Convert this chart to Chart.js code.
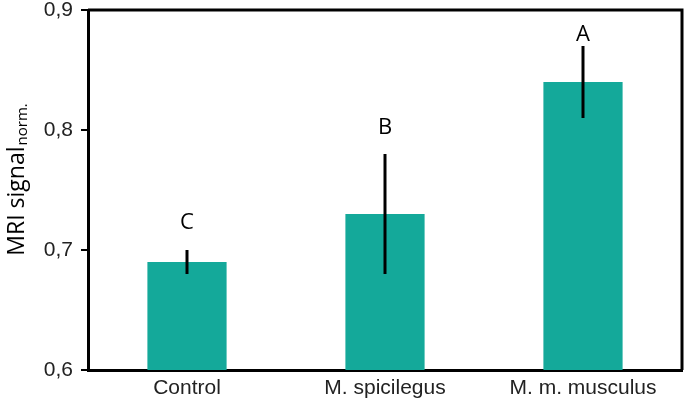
<!DOCTYPE html>
<html>
<head>
<meta charset="utf-8">
<script src="https://cdn.jsdelivr.net/npm/chart.js@4.4.0/dist/chart.umd.min.js"></script>
<style>
  html, body { margin: 0; padding: 0; background: #fff; }
  #wrap { width: 685px; height: 403px; }
</style>
</head>
<body>
<div id="wrap"><canvas id="mriChart" width="685" height="403"></canvas></div>
<script>
// data
var groups = ['Control', 'M. spicilegus', 'M. m. musculus'];
var signal = [0.69, 0.73, 0.84];
var errLow = [0.68, 0.68, 0.81];
var errHigh = [0.70, 0.78, 0.87];
var letters = ['C', 'B', 'A'];
var letterAt = [0.723, 0.802, 0.879];
var yTicks = [0.6, 0.7, 0.8, 0.9];

var barColor = '#14a99a';

// error bars, significance letters, frame and the axis title with subscript
var extras = {
  id: 'extras',
  afterDatasetsDraw: function(chart) {
    var c = chart.ctx, y = chart.scales.y;
    var meta = chart.getDatasetMeta(0);
    c.save();
    c.strokeStyle = '#000';
    c.lineWidth = 3;
    meta.data.forEach(function(bar, i) {
      c.beginPath();
      c.moveTo(bar.x, y.getPixelForValue(errLow[i]));
      c.lineTo(bar.x, y.getPixelForValue(errHigh[i]));
      c.stroke();
    });
    c.fillStyle = '#000';
    c.font = '22px "Open Sans"';
    c.textAlign = 'center';
    c.textBaseline = 'middle';
    meta.data.forEach(function(bar, i) {
      c.fillText(letters[i], bar.x, y.getPixelForValue(letterAt[i]));
    });
    c.restore();
  },
  afterDraw: function(chart) {
    var c = chart.ctx, a = chart.chartArea;
    c.save();
    c.strokeStyle = '#000';
    c.lineWidth = 3;
    c.beginPath();
    c.moveTo(a.left, a.top);
    c.lineTo(a.right, a.top);
    c.lineTo(a.right, a.bottom);
    c.stroke();

    // y title
    var main = 'MRI signal', sub = 'norm.';
    c.translate(17, 180);
    c.rotate(-Math.PI / 2);
    c.fillStyle = '#000';
    c.textBaseline = 'middle';
    c.font = '23px "Open Sans"';
    var w1 = c.measureText(main).width;
    c.font = '15px "Open Sans"';
    var w2 = c.measureText(sub).width;
    var x0 = -(w1 + w2) / 2;
    c.textAlign = 'left';
    c.font = '23px "Open Sans"';
    c.fillText(main, x0, 0);
    c.font = '15px "Open Sans"';
    c.fillText(sub, x0 + w1 + 1, 6);
    c.restore();
  }
};

var ctx = document.getElementById('mriChart').getContext('2d');
var mriChart = new Chart(ctx, {
  type: 'bar',
  data: {
    labels: groups,
    datasets: [{
      data: signal,
      backgroundColor: barColor,
      borderWidth: 0,
      barPercentage: 0.4,
      categoryPercentage: 1.0
    }]
  },
  options: {
    responsive: false,
    animation: false,
    layout: { padding: { top: 10, right: 3, left: 0, bottom: 0 } },
    plugins: {
      legend: { display: false },
      tooltip: { enabled: false }
    },
    scales: {
      x: {
        grid: { display: false, drawTicks: false },
        border: { display: true, color: '#000', width: 3 },
        ticks: {
          color: '#222',
          padding: 6,
          font: { family: '"Liberation Sans", Arial', size: 21 }
        },
        afterFit: function(s) { s.height = 33; s.paddingLeft = 0; s.paddingRight = 0; }
      },
      y: {
        min: 0.6,
        max: 0.9,
        afterBuildTicks: function(s) {
          s.ticks = yTicks.map(function(v) { return { value: v }; });
        },
        grid: {
          drawOnChartArea: false,
          drawTicks: true,
          tickLength: 7,
          color: '#000',
          lineWidth: 2
        },
        border: { display: true, color: '#000', width: 3 },
        ticks: {
          color: '#222',
          padding: 8,
          font: { family: '"Liberation Sans", Arial', size: 21 },
          callback: function(v) { return v.toFixed(1).replace('.', ','); }
        },
        afterFit: function(s) { s.width = 88; s.paddingTop = 0; s.paddingBottom = 0; }
      }
    }
  },
  plugins: [extras]
});
</script>
</body>
</html>
